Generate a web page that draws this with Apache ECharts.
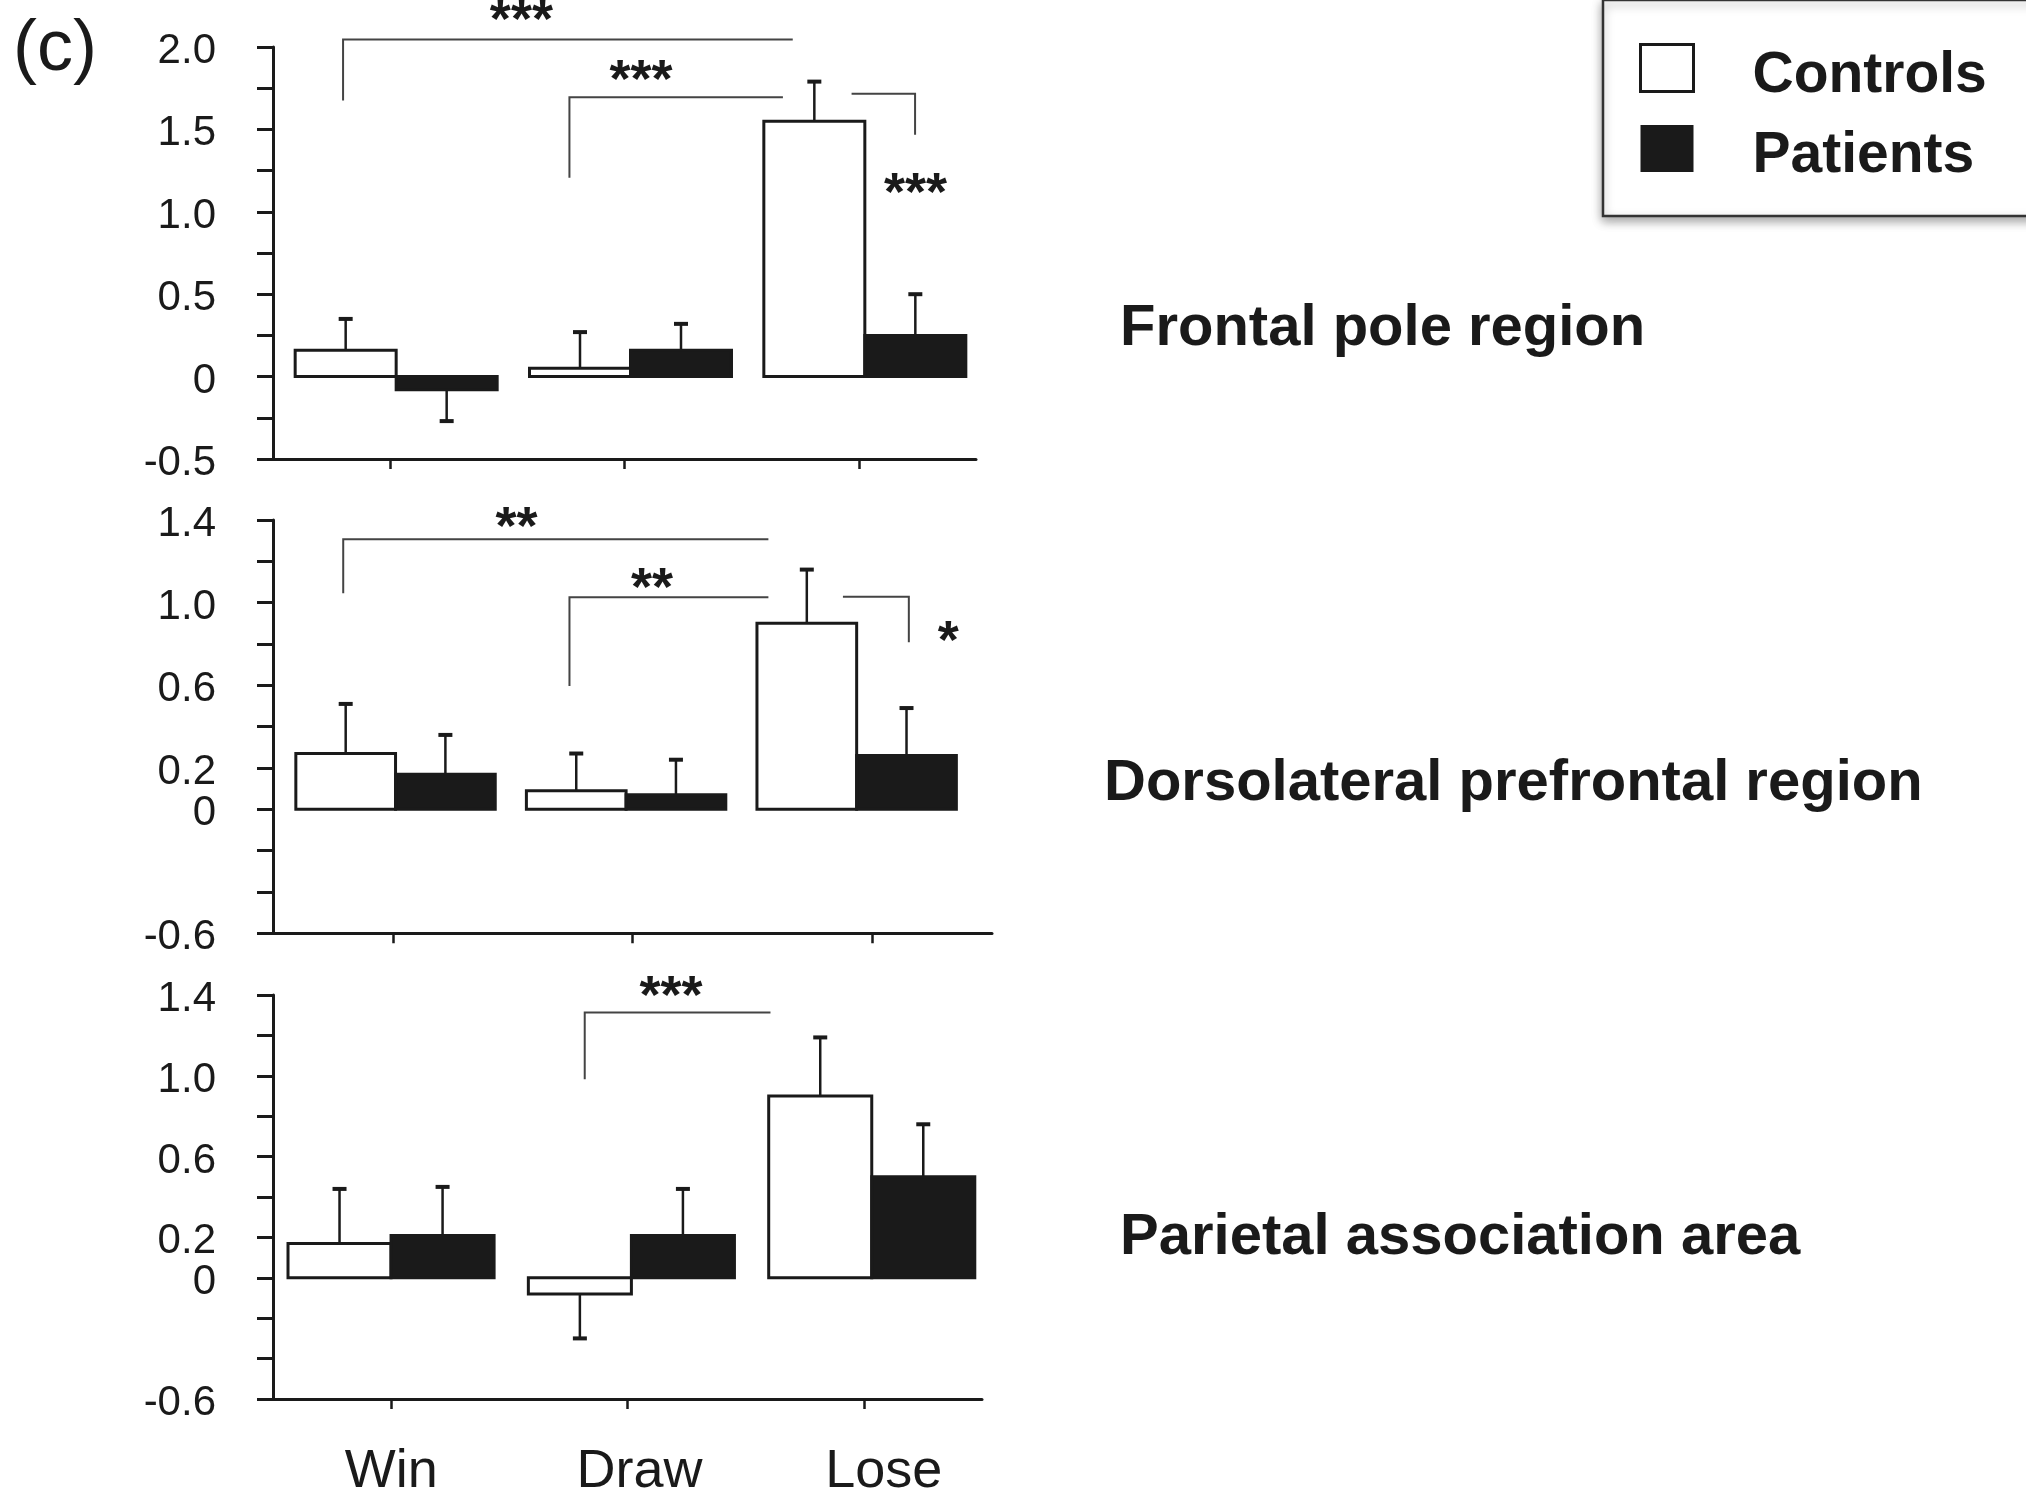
<!DOCTYPE html>
<html>
<head>
<meta charset="utf-8">
<script src="https://cdn.jsdelivr.net/npm/echarts@6/dist/echarts.min.js"></script>
<style>
html,body{margin:0;padding:0;background:#fff;}
#chart{width:2026px;height:1499px;}
</style>
</head>
<body>
<div id="chart"></div>
<script>
// ---------- data ----------
const categories = ['Win', 'Draw', 'Lose'];
const seriesNames = ['Controls', 'Patients'];

const frontalControls = [0.16, 0.05, 1.55];
const frontalControlsErr = [0.19, 0.22, 0.24];
const frontalPatients = [-0.08, 0.16, 0.25];
const frontalPatientsErr = [0.19, 0.16, 0.25];

const dlpfcControls = [0.27, 0.09, 0.90];
const dlpfcControlsErr = [0.24, 0.18, 0.26];
const dlpfcPatients = [0.17, 0.07, 0.26];
const dlpfcPatientsErr = [0.19, 0.17, 0.23];

const parietalControls = [0.17, -0.08, 0.90];
const parietalControlsErr = [0.27, 0.22, 0.29];
const parietalPatients = [0.21, 0.21, 0.50];
const parietalPatientsErr = [0.24, 0.23, 0.26];

const frontalTickLabels = ['2.0', '1.5', '1.0', '0.5', '0', '-0.5'];
const lowerTickLabels = ['1.4', '1.0', '0.6', '0.2', '0', '-0.6'];

const regionNames = ['Frontal pole region', 'Dorsolateral prefrontal region', 'Parietal association area'];
const panelLetter = '(c)';

// significance brackets: path in (category units, value), stars text, star centre
const frontalBrackets = [
  {path: [[-0.201, 1.675], [-0.201, 2.045], [1.718, 2.045]], stars: '***', at: [0.56, 2.224]},
  {path: [[0.765, 1.206], [0.765, 1.695], [1.676, 1.695]], stars: '***', at: [1.07, 1.858]},
  {path: [[1.969, 1.716], [2.24, 1.716], [2.24, 1.468]], stars: '***', at: [2.242, 1.175]}
];
const dlpfcBrackets = [
  {path: [[-0.207, 1.045], [-0.207, 1.307], [1.567, 1.307]], stars: '**', at: [0.516, 1.416]},
  {path: [[0.737, 0.597], [0.737, 1.026], [1.567, 1.026]], stars: '**', at: [1.081, 1.118]},
  {path: [[1.878, 1.029], [2.153, 1.029], [2.153, 0.808]], stars: '*', at: [2.317, 0.860]}
];
const parietalBrackets = [
  {path: [[0.819, 0.983], [0.819, 1.313], [1.605, 1.313]], stars: '***', at: [1.184, 1.446]}
];

// ---------- layout / style ----------
const FONT = '"Liberation Sans", Arial, Helvetica, sans-serif';
const INK = '#1a1a1a';
const categoryLabelNudge = [0, 24, 40];   // left padding (px) of the category labels
// legend swatch: 53x47 square drawn in the top of a 53x63 icon box (text sits a little lower)
const LEGEND_ICON = 'path://M0,0L53,0L53,47L0,47ZM0,63';
const panels = [
  {left: 273, top: 47, width: 703, height: 412, min: -0.5, max: 2.0, interval: 0.25, labels: frontalTickLabels, shift: 6, spread: 1.0, wFrac: 0.431},
  {left: 273, top: 520, width: 719, height: 413.3, min: -0.6, max: 1.4, interval: 0.2, labels: lowerTickLabels, shift: -6.4, spread: 0.962, wFrac: 0.416},
  {left: 273, top: 995, width: 709, height: 412, min: -0.6, max: 1.4, interval: 0.2, labels: lowerTickLabels, shift: 3.9, spread: 1.017, wFrac: 0.436}
];
const panelData = [
  {c: frontalControls, ce: frontalControlsErr, p: frontalPatients, pe: frontalPatientsErr, br: frontalBrackets},
  {c: dlpfcControls, ce: dlpfcControlsErr, p: dlpfcPatients, pe: dlpfcPatientsErr, br: dlpfcBrackets},
  {c: parietalControls, ce: parietalControlsErr, p: parietalPatients, pe: parietalPatientsErr, br: parietalBrackets}
];

function barSeries(name, pi, means, errs, side, fill) {
  const P = panels[pi];
  return {
    type: 'custom', name: name, xAxisIndex: pi, yAxisIndex: pi, clip: false, z: 3,
    itemStyle: {color: fill},
    data: means.map((m, i) => [i, m, errs[i]]),
    renderItem: function (params, api) {
      const i = api.value(0), m = api.value(1), e = api.value(2);
      const band = api.size([1, 0])[0];
      const w = band * P.wFrac;
      const base = api.coord([i, 0]);
      const top = api.coord([i, m]);
      const tip = api.coord([i, m + (m < 0 ? -e : e)]);
      const pairCentre = base[0] + (i - 1) * band * (P.spread - 1) + P.shift;
      const left = pairCentre + (side < 0 ? -w : 0);
      const cx = left + w / 2;
      return {
        type: 'group', children: [
          {type: 'line', shape: {x1: cx, y1: top[1], x2: cx, y2: tip[1]}, style: {stroke: INK, lineWidth: 2.5}},
          {type: 'line', shape: {x1: cx - 7, y1: tip[1], x2: cx + 7, y2: tip[1]}, style: {stroke: INK, lineWidth: 4}},
          {type: 'rect', shape: {x: left, y: Math.min(base[1], top[1]), width: w, height: Math.abs(top[1] - base[1])},
            style: {fill: fill, stroke: INK, lineWidth: 3}}
        ]
      };
    }
  };
}

function bracketSeries(pi, list) {
  return {
    type: 'custom', xAxisIndex: pi, yAxisIndex: pi, clip: false, z: 4, silent: true,
    data: list.map((b, k) => [k, b.at[1]]),
    renderItem: function (params, api) {
      const b = list[params.dataIndex];
      const band = api.size([1, 0])[0];
      const px = (x, y) => { const c = api.coord([0, y]); return [c[0] + x * band, c[1]]; };
      const pts = b.path.map(q => px(q[0], q[1]));
      const t = px(b.at[0], b.at[1]);
      return {
        type: 'group', children: [
          {type: 'polyline', shape: {points: pts}, style: {stroke: '#444', lineWidth: 2, fill: null}},
          {type: 'text', style: {text: b.stars, x: t[0], y: t[1] + 12, font: 'bold 54px ' + FONT, fill: INK, align: 'center', verticalAlign: 'middle'}}
        ]
      };
    }
  };
}

const catRich = {};
categoryLabelNudge.forEach((n, k) => {
  catRich['c' + k] = {fontSize: 54, fontFamily: FONT, color: INK, padding: [0, 0, 0, n]};
});

const grids = panels.map(p => ({left: p.left, top: p.top, width: p.width, height: p.height, containLabel: false}));
const xAxes = panels.map((p, i) => ({
  type: 'category', gridIndex: i, data: categories, boundaryGap: true,
  axisLine: {onZero: false, lineStyle: {color: INK, width: 3}},
  axisTick: {show: true, alignWithLabel: true, length: 10, lineStyle: {color: INK, width: 2.5}},
  axisLabel: {
    show: i === 2, interval: 0, hideOverlap: false, fontSize: 54, fontFamily: FONT, color: INK, margin: 46,
    formatter: function (v, idx) { return '{c' + idx + '|' + v + '}'; },
    rich: catRich
  },
  splitLine: {show: false}
}));
const yAxes = panels.map((p, i) => ({
  type: 'value', gridIndex: i, min: p.min, max: p.max, interval: p.interval,
  axisLine: {show: true, onZero: false, lineStyle: {color: INK, width: 3}},
  axisTick: {show: true, length: 16, lineStyle: {color: INK, width: 3}},
  axisLabel: {
    fontSize: 42, fontFamily: FONT, color: INK, margin: 57, showMinLabel: true, showMaxLabel: true,
    verticalAlign: 'top', lineHeight: 9,
    formatter: function (v) {
      const s = Math.abs(v) < 1e-9 ? '0' : v.toFixed(1);
      return p.labels.indexOf(s) >= 0 ? s : '';
    }
  },
  splitLine: {show: false}
}));

const series = [];
panelData.forEach((d, i) => {
  series.push(barSeries(seriesNames[0], i, d.c, d.ce, -1, '#ffffff'));
  series.push(barSeries(seriesNames[1], i, d.p, d.pe, 1, INK));
  series.push(bracketSeries(i, d.br));
});

const chart = echarts.init(document.getElementById('chart'), null, {renderer: 'canvas'});
chart.setOption({
  backgroundColor: '#ffffff',
  animation: false,
  grid: grids,
  xAxis: xAxes,
  yAxis: yAxes,
  legend: {
    orient: 'vertical', left: 1603, top: 0,
    padding: [43, 70, 28, 36],
    itemWidth: 53, itemHeight: 63, itemGap: 16, icon: LEGEND_ICON,
    backgroundColor: '#ffffff', borderColor: '#333', borderWidth: 2.5,
    shadowBlur: 10, shadowColor: 'rgba(0,0,0,0.35)', shadowOffsetX: 0, shadowOffsetY: 4,
    selectedMode: false,
    textStyle: {fontSize: 57, fontWeight: 'bold', fontFamily: FONT, color: INK, padding: [0, 0, 0, 54]},
    data: [
      {name: seriesNames[0], itemStyle: {color: '#ffffff', borderColor: INK, borderWidth: 3}},
      {name: seriesNames[1], itemStyle: {color: INK, borderColor: INK, borderWidth: 0}}
    ]
  },
  graphic: [
    {type: 'text', left: 13, top: 14, style: {text: panelLetter, font: '72px ' + FONT, fill: INK}},
    {type: 'text', x: 1120, y: 329, style: {text: regionNames[0], font: 'bold 58px ' + FONT, fill: INK, verticalAlign: 'middle'}},
    {type: 'text', x: 1104, y: 784, style: {text: regionNames[1], font: 'bold 58px ' + FONT, fill: INK, verticalAlign: 'middle'}},
    {type: 'text', x: 1120, y: 1238, style: {text: regionNames[2], font: 'bold 58px ' + FONT, fill: INK, verticalAlign: 'middle'}}
  ],
  series: series
});
</script>
</body>
</html>
